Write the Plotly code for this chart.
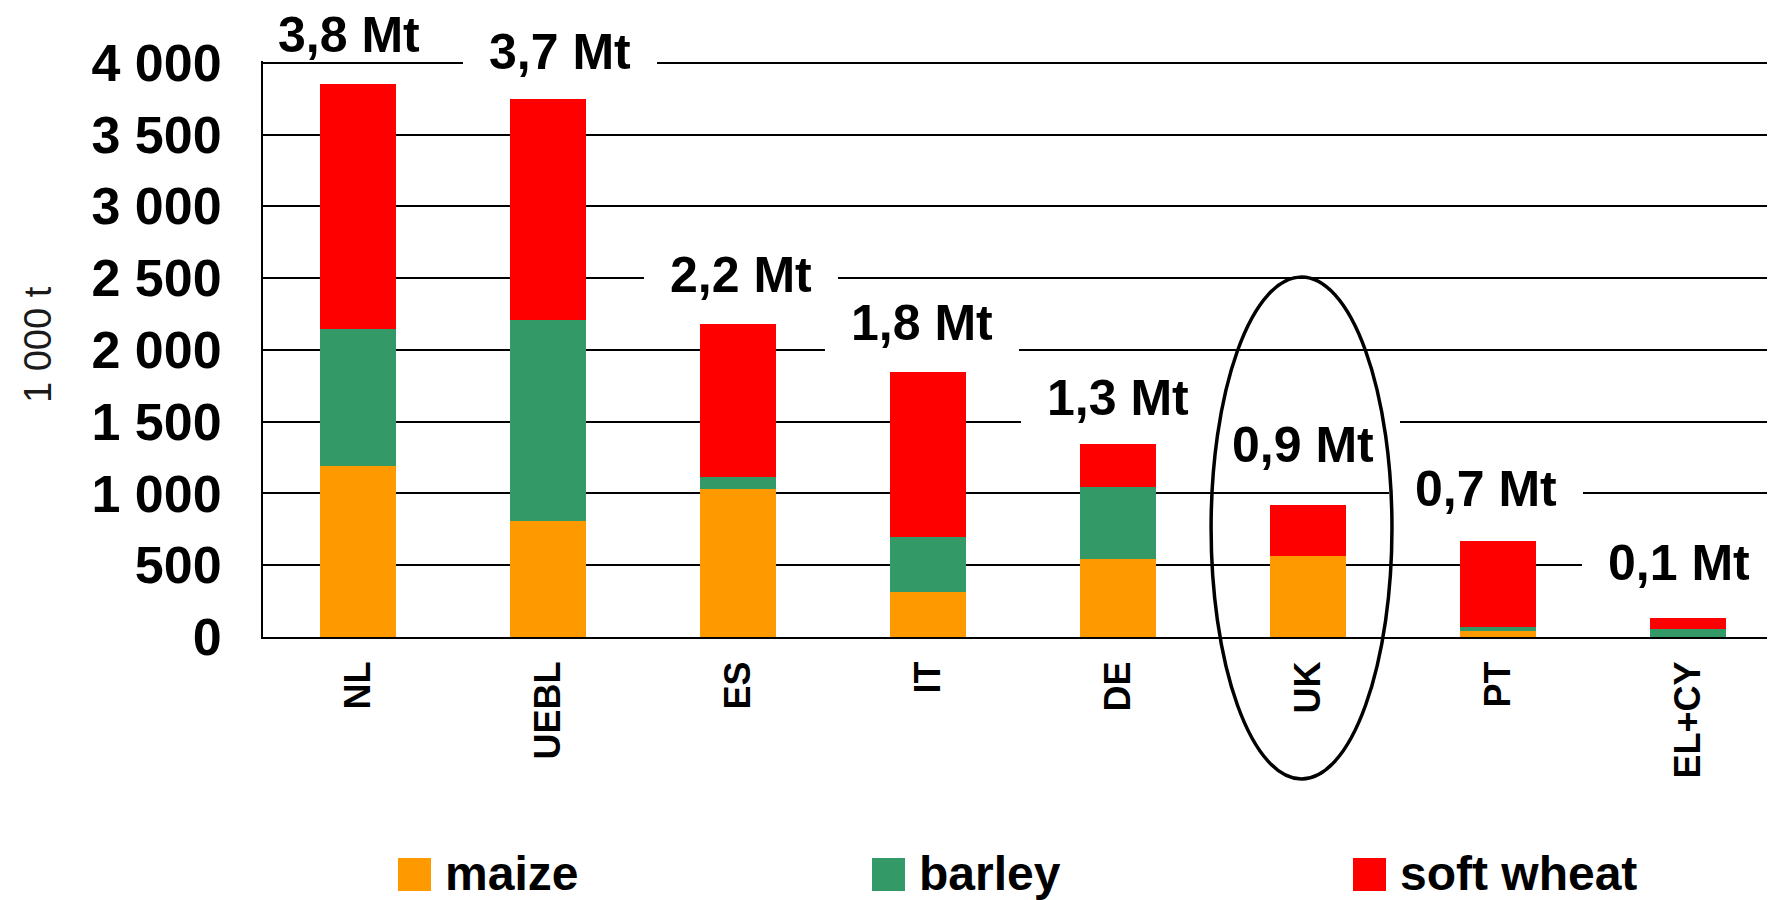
import plotly.graph_objects as go

# ---------------- data ----------------
countries = ["NL", "UEBL", "ES", "IT", "DE", "UK", "PT", "EL+CY"]
maize = [1190, 810, 1032, 315, 540, 566, 45, 0]
barley = [952, 1395, 85, 385, 506, 0, 28, 58]
soft_wheat = [1708, 1545, 1063, 1146, 299, 354, 597, 76]
total_labels = ["3,8 Mt", "3,7 Mt", "2,2 Mt", "1,8 Mt", "1,3 Mt", "0,9 Mt", "0,7 Mt", "0,1 Mt"]
series_names = ["maize", "barley", "soft wheat"]
y_ticks = [0, 500, 1000, 1500, 2000, 2500, 3000, 3500, 4000]
y_title = "1 000 t"
highlight = "UK"

# ---------------- style ----------------
series_colors = ["#FF9900", "#339966", "#FF0000"]
FONT = "Liberation Sans, Arial, sans-serif"
OFF = 8                               # page body margin
W, H = 1775 - OFF, 900 - OFF
ML, MR, MT, MB = 263 - OFF, 0, 61 - OFF, 263
PW, PH = W - ML - MR, H - MT - MB
BAND = PW / 7.958
YMAX = 4012
UNIT = YMAX / PH                      # data units per pixel
# per-label offsets (px): horizontal shift, height of label centre above bar top
label_dx = [-9, 12, 3, -6, 0, -5, -12, -9]
label_dy = [49, 47, 49, 49, 46, 60, 52, 55]
BOX_HW, BOX_HH = 97, 36               # white label boxes (px)


def px_to_paper_x(px):                # px given in page coordinates
    return (px - OFF - ML) / PW


def px_to_paper_y(py):
    return (H - MB - (py - OFF)) / PH


fig = go.Figure()
for name, vals, col in zip(series_names, [maize, barley, soft_wheat], series_colors):
    fig.add_trace(go.Bar(x=countries, y=vals, name=name, marker_color=col,
                         marker_line_width=0, width=0.405, showlegend=False))

totals = [a + b + c for a, b, c in zip(maize, barley, soft_wheat)]

shapes = []
annotations = []
for i, (c, t, lab) in enumerate(zip(countries, totals, total_labels)):
    yc = t + label_dy[i] * UNIT
    annotations.append(dict(x=c, y=yc / YMAX, xref="x", yref="paper", text=lab, showarrow=False,
                            xshift=label_dx[i], xanchor="center", yanchor="middle",
                            font=dict(family=FONT, size=50, color="black", weight="bold")))
    if i > 0:
        xc = i + label_dx[i] / BAND
        shapes.append(dict(type="rect", xref="x", yref="y", layer="between",
                           x0=xc - BOX_HW / BAND, x1=xc + BOX_HW / BAND,
                           y0=yc - BOX_HH * UNIT, y1=yc + BOX_HH * UNIT,
                           fillcolor="white", line=dict(width=0)))

# highlight ellipse round the UK bar
hi = countries.index(highlight)
shapes.append(dict(type="circle", xref="x", yref="paper", layer="above",
                   x0=hi - 0.034 - 0.476, x1=hi - 0.034 + 0.476,
                   y0=px_to_paper_y(779), y1=px_to_paper_y(277),
                   line=dict(color="black", width=3.5), fillcolor="rgba(0,0,0,0)"))

# legend drawn by hand
sq_left = [398, 872, 1353]
for name, col, sx in zip(series_names, series_colors, sq_left):
    shapes.append(dict(type="rect", xref="paper", yref="paper",
                       x0=px_to_paper_x(sx), x1=px_to_paper_x(sx + 33),
                       y0=px_to_paper_y(891), y1=px_to_paper_y(858),
                       fillcolor=col, line=dict(width=0)))
    annotations.append(dict(x=px_to_paper_x(sx + 45), y=px_to_paper_y(873), xref="paper", yref="paper",
                            text=name, showarrow=False, xanchor="left", yanchor="middle",
                            font=dict(family=FONT, size=48, color="black", weight="bold")))

# y axis title
annotations.append(dict(x=px_to_paper_x(38), y=px_to_paper_y(345), xref="paper", yref="paper",
                        text=y_title, showarrow=False, textangle=-90,
                        xanchor="center", yanchor="middle",
                        font=dict(family=FONT, size=38, color="#1a1a1a")))

fig.update_layout(
    width=W, height=H,
    margin=dict(l=ML, r=MR, t=MT, b=MB, pad=0),
    paper_bgcolor="white", plot_bgcolor="white",
    barmode="stack",
    showlegend=False,
    shapes=shapes,
    annotations=annotations,
    xaxis=dict(type="category", range=[-0.5, 7.458],
               showline=True, linecolor="black", linewidth=2,
               showgrid=False, ticks="", tickangle=-90, ticklabelstandoff=8,
               tickfont=dict(family=FONT, size=36, color="black", weight="bold")),
    yaxis=dict(range=[0, YMAX], tickvals=y_ticks,
               ticktext=[f"{v:,}".replace(",", " ") for v in y_ticks],
               showline=True, linecolor="black", linewidth=2,
               showgrid=True, gridcolor="black", gridwidth=2, zeroline=False,
               ticks="", ticklabelstandoff=29,
               tickfont=dict(family=FONT, size=52, color="black", weight="bold")),
)

fig.write_html("out.html")
